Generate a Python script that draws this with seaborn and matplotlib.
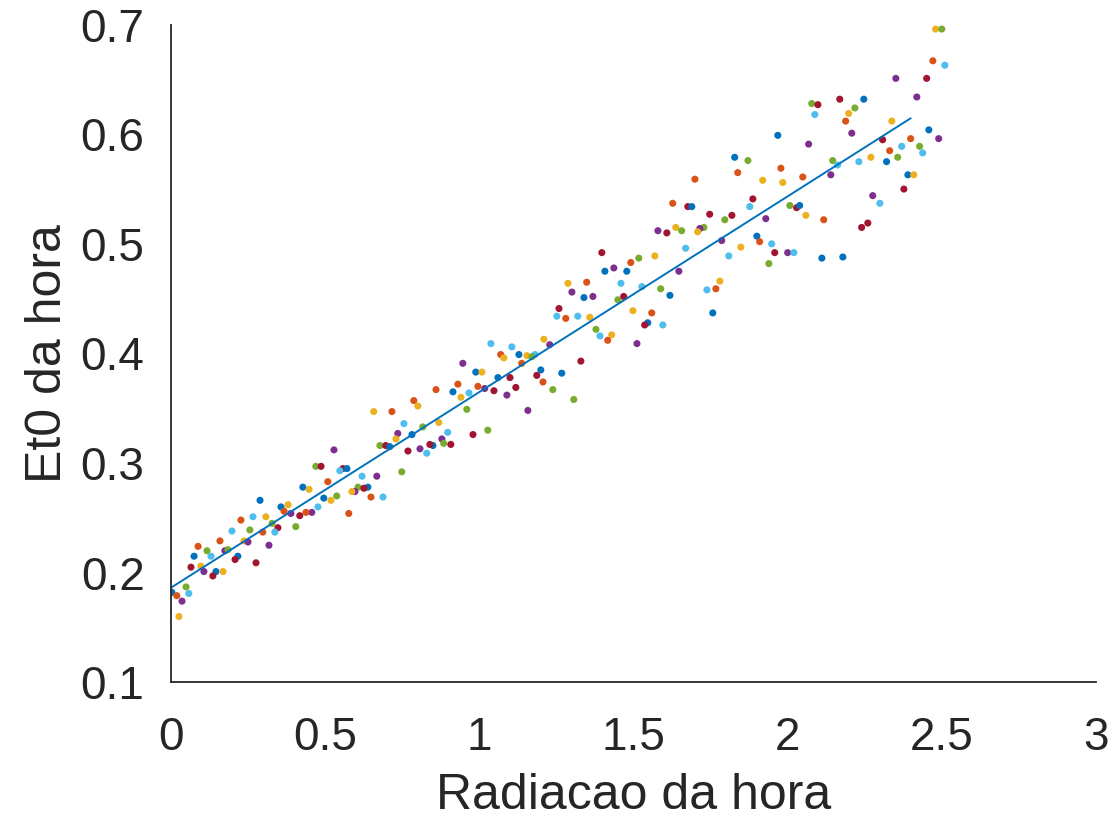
import numpy as np
import pandas as pd
import matplotlib
matplotlib.use("Agg")
import matplotlib.pyplot as plt
import seaborn as sns

# radiacao (x), et0 (y), cor de cada ponto (ordem de cores do matlab)
radiacao = [
    0.289, 0.357, 0.380, 0.367, 0.389, 0.418, 0.428, 0.266, 0.308, 0.227,
    0.328, 0.405, 0.347, 0.337, 0.256, 0.298, 0.198, 0.159, 0.237, 0.250,
    0.318, 0.088, 0.117, 0.175, 0.185, 0.075, 0.130, 0.217, 0.208, 0.276,
    0.065, 0.097, 0.107, 0.146, 0.169, 0.136, 0.003, 0.049, 0.058, 0.019,
    0.036, 0.026,
    0.788, 0.801, 0.658, 0.717, 0.756, 0.736, 0.817, 0.730, 0.782, 0.678,
    0.697, 0.710, 0.769, 0.808, 0.529, 0.470, 0.487, 0.558, 0.571, 0.548,
    0.620, 0.668, 0.749, 0.509, 0.607, 0.639, 0.626, 0.597, 0.587, 0.448,
    0.496, 0.519, 0.538, 0.649, 0.688, 0.477, 0.457, 0.438, 0.577,
    1.038, 1.106, 1.070, 1.080, 1.129, 1.155, 1.181, 1.171, 1.210, 0.947,
    1.138, 0.989, 1.009, 1.200, 1.187, 1.207, 1.100, 1.061, 0.931, 0.996,
    0.860, 0.915, 0.967, 1.018, 1.048, 1.119, 1.090, 0.941, 0.960, 1.158,
    0.869, 0.898, 1.028, 0.980, 0.879, 0.885, 0.908, 0.850, 0.840, 0.830,
    1.398, 1.437, 1.408, 1.479, 1.492, 1.518, 1.570, 1.288, 1.349, 1.301,
    1.460, 1.528, 1.589, 1.340, 1.369, 1.450, 1.469, 1.259, 1.252, 1.281,
    1.320, 1.359, 1.499, 1.560, 1.547, 1.537, 1.596, 1.379, 1.392, 1.430,
    1.417, 1.229, 1.512, 1.330, 1.268, 1.239, 1.307,
    1.829, 1.872, 1.839, 1.979, 1.700, 1.920, 1.985, 1.628, 1.677, 1.690,
    1.888, 1.878, 1.748, 1.820, 1.797, 1.930, 1.729, 1.716, 1.709, 1.638,
    1.657, 1.580, 1.609, 1.901, 1.910, 1.949, 1.959, 1.787, 1.849, 1.670,
    1.810, 1.940, 1.648, 1.781, 1.739, 1.768, 1.619, 1.758,
    2.352, 2.170, 2.248, 2.079, 2.099, 2.219, 2.199, 2.089, 2.189, 2.339,
    2.209, 1.969, 2.069, 2.309, 2.332, 2.371, 2.358, 2.271, 2.322, 2.147,
    2.163, 2.232, 2.050, 2.141, 2.378, 2.277, 2.300, 2.008, 2.030, 2.040,
    2.060, 2.118, 2.261, 2.241, 2.001, 2.021, 2.112, 2.180,
    2.472, 2.511, 2.452, 2.420, 2.459, 2.400, 2.491, 2.429, 2.439, 2.391,
    2.410, 2.481, 2.501,
]

et0 = [
    0.266, 0.260, 0.262, 0.256, 0.254, 0.252, 0.278, 0.251, 0.251, 0.248,
    0.245, 0.242, 0.241, 0.237, 0.239, 0.237, 0.238, 0.229, 0.229, 0.228,
    0.225, 0.224, 0.220, 0.220, 0.221, 0.215, 0.215, 0.215, 0.212, 0.209,
    0.205, 0.206, 0.201, 0.201, 0.201, 0.197, 0.182, 0.187, 0.181, 0.179,
    0.174, 0.160,
    0.357, 0.352, 0.347, 0.347, 0.336, 0.327, 0.333, 0.322, 0.326, 0.316,
    0.316, 0.315, 0.311, 0.313, 0.312, 0.297, 0.297, 0.295, 0.295, 0.293,
    0.288, 0.288, 0.292, 0.283, 0.278, 0.278, 0.277, 0.274, 0.274, 0.276,
    0.268, 0.266, 0.270, 0.269, 0.269, 0.260, 0.255, 0.255, 0.254,
    0.409, 0.406, 0.399, 0.396, 0.399, 0.398, 0.399, 0.397, 0.413, 0.391,
    0.391, 0.383, 0.383, 0.385, 0.380, 0.374, 0.378, 0.378, 0.372, 0.370,
    0.367, 0.365, 0.364, 0.368, 0.366, 0.369, 0.362, 0.360, 0.349, 0.348,
    0.337, 0.328, 0.330, 0.326, 0.322, 0.318, 0.317, 0.316, 0.317, 0.309,
    0.492, 0.478, 0.475, 0.475, 0.483, 0.487, 0.489, 0.464, 0.465, 0.456,
    0.464, 0.461, 0.459, 0.451, 0.452, 0.449, 0.452, 0.441, 0.434, 0.432,
    0.434, 0.433, 0.439, 0.437, 0.428, 0.426, 0.426, 0.422, 0.416, 0.417,
    0.412, 0.408, 0.409, 0.393, 0.382, 0.367, 0.358,
    0.579, 0.576, 0.565, 0.569, 0.559, 0.558, 0.556, 0.537, 0.534, 0.534,
    0.541, 0.534, 0.527, 0.526, 0.522, 0.523, 0.515, 0.514, 0.511, 0.515,
    0.512, 0.512, 0.510, 0.507, 0.502, 0.500, 0.492, 0.503, 0.497, 0.496,
    0.489, 0.482, 0.475, 0.466, 0.458, 0.459, 0.453, 0.437,
    0.651, 0.632, 0.632, 0.628, 0.627, 0.624, 0.619, 0.618, 0.612, 0.612,
    0.601, 0.599, 0.591, 0.595, 0.585, 0.589, 0.579, 0.579, 0.575, 0.576,
    0.572, 0.575, 0.561, 0.563, 0.550, 0.544, 0.537, 0.535, 0.533, 0.535,
    0.526, 0.522, 0.519, 0.515, 0.492, 0.492, 0.487, 0.488,
    0.667, 0.663, 0.651, 0.634, 0.604, 0.596, 0.596, 0.589, 0.583, 0.563,
    0.563, 0.696, 0.696,
]

cor = list(
    "BBYOPRBCYOGGRCGOCOYPPOGPGBCBRRRYPBYRBGCOPY"
    "OYYOCPGYBGRBRPPGRRBCCPGOGBRPYYBYGOCCPOO"
    "CCOYBYCGYPOBYBRORBOOOBCPRRPYGPYCGRPGRBRC"
    "RPBBOGYYOPCCGBPGRRCOCYYOBRCGCYOPPRBGG"
    "BGOOOYYORBRCRRGPGPYYGPRBOCRPYCCGPYCOBB"
    "PRBGRGYCOYPBPROCGYBGCCOPRPCGRBYORRPCBB"
    "OCRPBOPGCBYYG"
)

matlab_cores = {
    "B": "#0072BD", "O": "#D95319", "Y": "#EDB120", "P": "#7E2F8E",
    "G": "#77AC30", "C": "#4DBEEE", "R": "#A2142F",
}

# reta ajustada, desenhada de 0 ate 2.4
x_reta = [0, 2.4]

df = pd.DataFrame({"Radiacao": radiacao, "Et0": et0, "cor": cor})

sns.set_style("white")
plt.rcParams["font.family"] = ["Liberation Sans", "DejaVu Sans"]

fig = plt.figure(figsize=(11.1, 8.22), dpi=100)
ax = fig.add_axes([0.154, 0.170, 0.833, 0.800])

sns.scatterplot(data=df, x="Radiacao", y="Et0", hue="cor", palette=matlab_cores,
                s=26, linewidth=0, legend=False, ax=ax)

coef = np.polyfit(df["Radiacao"], df["Et0"], 1)
ax.plot(x_reta, np.polyval(coef, x_reta), color="#0072BD", lw=1.4)

ax.set_xlim(0, 3)
ax.set_ylim(0.1, 0.7)
ax.set_xticks([0, 0.5, 1, 1.5, 2, 2.5, 3])
ax.set_xticklabels(["0", "0.5", "1", "1.5", "2", "2.5", "3"])
ax.set_yticks([0.1, 0.2, 0.3, 0.4, 0.5, 0.6, 0.7])
ax.set_yticklabels(["0.1", "0.2", "0.3", "0.4", "0.5", "0.6", "0.7"])

for lado in ["top", "right"]:
    ax.spines[lado].set_visible(False)
for lado in ["left", "bottom"]:
    ax.spines[lado].set_color("#262626")
    ax.spines[lado].set_linewidth(1.3)

ax.tick_params(direction="in", length=7, width=1.3, color="#262626",
               labelsize=33, labelcolor="#262626")
ax.tick_params(axis="x", pad=24)
ax.tick_params(axis="y", pad=19)
ax.set_xlabel("Radiacao da hora", fontsize=36, color="#262626", labelpad=10)
ax.set_ylabel("Et0 da hora", fontsize=36, color="#262626", labelpad=7)

fig.savefig("out.png", dpi=100)
